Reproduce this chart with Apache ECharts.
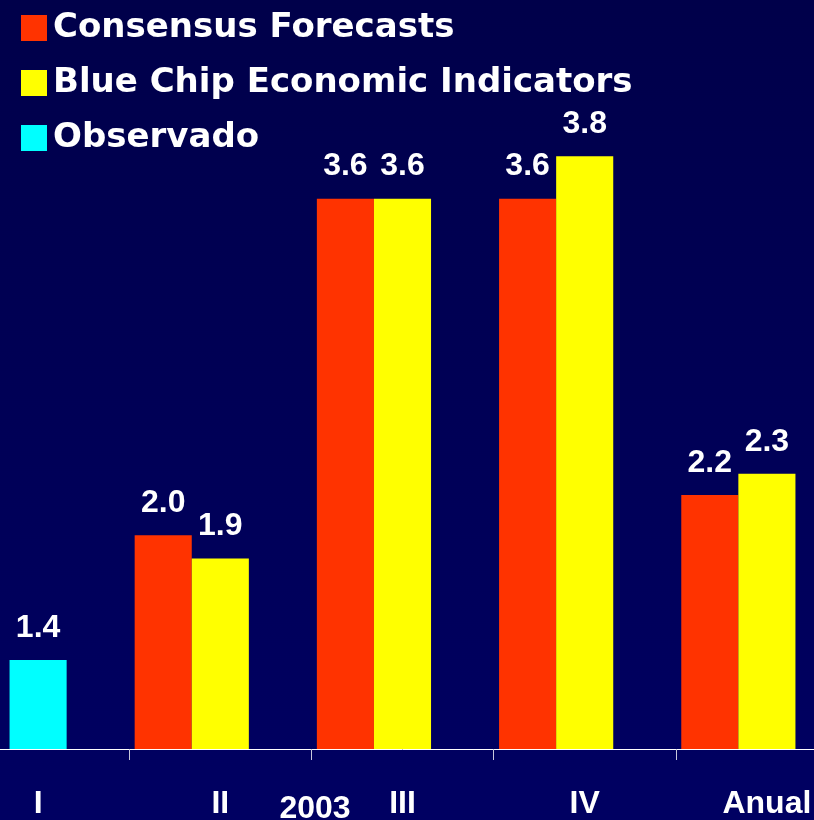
<!DOCTYPE html>
<html>
<head>
<meta charset="utf-8">
<script src="https://cdn.jsdelivr.net/npm/echarts@6/dist/echarts.min.js"></script>
<style>
html,body{margin:0;padding:0;background:#00004e;overflow:hidden;width:814px;height:820px;}
#chart{position:absolute;left:-53px;top:0;width:911px;height:820px;}
</style>
</head>
<body>
<div id="chart"></div>
<script>
var categories = ['I', 'II', 'III', 'IV', 'Anual'];
var consensus = [null, 2.01, 3.6, 3.6, 2.2];
var blueChip = [null, 1.9, 3.6, 3.8, 2.3];
var observado = [1.42, null, null, null, null];
var spacer = [null, null, null, null, null];
var seriesNames = ['Consensus Forecasts', 'Blue Chip Economic Indicators', 'Observado'];
var yearLabel = '2003';

var FONT = '"Liberation Sans", Arial, sans-serif';
var OFFSET = 53; // the chart is cropped on the left by the page edge
var chart = echarts.init(document.getElementById('chart'), null, {renderer: 'canvas'});

function lbl() {
  return {
    show: true,
    position: 'top',
    distance: 16,
    color: '#ffffff',
    fontSize: 32,
    fontWeight: 'bold',
    fontFamily: FONT,
    formatter: function (p) { return p.value == null ? '' : Number(p.value).toFixed(1); }
  };
}

var option = {
  backgroundColor: {
    type: 'linear', x: 0, y: 0, x2: 0, y2: 1,
    colorStops: [{offset: 0, color: '#00004a'}, {offset: 1, color: '#000062'}]
  },
  animation: false,
  legend: {
    data: seriesNames,
    orient: 'vertical',
    left: 16 + OFFSET,
    top: 6,
    icon: 'rect',
    itemWidth: 26,
    itemHeight: 26,
    itemGap: 21,
    textStyle: {color: '#ffffff', fontSize: 34, fontWeight: 'bold', fontFamily: '"DejaVu Sans", ' + FONT, padding: [0, 0, 0, 1]},
    selectedMode: false
  },
  grid: {left: 0, right: 0, top: 114, bottom: 69, containLabel: false},
  xAxis: {
    type: 'category',
    data: categories,
    axisLine: {lineStyle: {color: '#ffffff', width: 1}},
    axisTick: {show: true, length: 11, lineStyle: {color: '#c8c8dc', width: 1}},
    axisLabel: {color: '#ffffff', fontSize: 32, fontWeight: 'bold', fontFamily: FONT, margin: 39}
  },
  yAxis: {
    type: 'value', min: 1, max: 4, show: false,
    splitLine: {show: false}
  },
  series: [
    {name: seriesNames[0], type: 'bar', stack: 'a', data: consensus, itemStyle: {color: '#ff3300'}, barGap: '0%', barCategoryGap: '6%', label: lbl()},
    {name: seriesNames[1], type: 'bar', stack: 'b', data: blueChip, itemStyle: {color: '#ffff00'}, barGap: '0%', barCategoryGap: '6%', label: lbl()},
    {name: seriesNames[2], type: 'bar', stack: 'b', data: observado, itemStyle: {color: '#00ffff'}, barGap: '0%', barCategoryGap: '6%', label: lbl()},
    {name: '_spacer', type: 'bar', stack: 'c', data: spacer, barGap: '0%', barCategoryGap: '6%', silent: true}
  ],
  graphic: [{
    type: 'text', x: 315 + OFFSET, y: 809,
    style: {text: yearLabel, fill: '#ffffff', fontSize: 32, fontWeight: 'bold', fontFamily: FONT, align: 'center', verticalAlign: 'middle'}
  }]
};
chart.setOption(option);
</script>
</body>
</html>
